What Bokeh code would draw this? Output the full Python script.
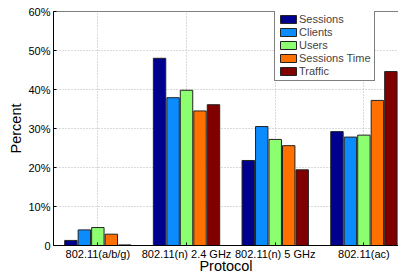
from bokeh.plotting import figure
from bokeh.models import (FixedTicker, LinearAxis, Range1d, Legend, LegendItem,
                          ColumnDataSource, Grid, Span)
from bokeh.embed import file_html
from bokeh.resources import INLINE

categories = ["802.11(a/b/g)", "802.11(n) 2.4 GHz", "802.11(n) 5 GHz", "802.11(ac)"]
series_names = ["Sessions", "Clients", "Users", "Sessions Time", "Traffic"]
sessions = [1.3, 48.0, 21.8, 29.2]
clients = [4.0, 37.9, 30.5, 27.8]
users = [4.6, 39.8, 27.2, 28.3]
sessions_time = [2.9, 34.5, 25.6, 37.2]
traffic = [0.15, 36.1, 19.4, 44.6]
series_values = [sessions, clients, users, sessions_time, traffic]
colors = ["#00008F", "#0A8CFF", "#8CFF70", "#FF7000", "#800000"]
y_ticks = [0, 10, 20, 30, 40, 50, 60]
y_tick_labels = ["0", "10%", "20%", "30%", "40%", "50%", "60%"]

FONT = "Liberation Sans"

p = figure(width=398, height=276, output_backend="svg", toolbar_location=None,
           x_range=Range1d(0.5, 4.39), y_range=Range1d(0, 60),
           min_border_left=53, min_border_right=0, min_border_top=11, min_border_bottom=31,
           x_axis_type=None, y_axis_type=None)
p.outline_line_color = None
p.background_fill_color = "white"
p.border_fill_color = "white"

xs = list(range(1, len(categories) + 1))

# grids (drawn beneath bars)
gx = Grid(dimension=0, ticker=FixedTicker(ticks=xs),
          grid_line_color="#b4b4b4", grid_line_dash="1 2", grid_line_width=1)
gy = Grid(dimension=1, ticker=FixedTicker(ticks=y_ticks), grid_line_color="#b4b4b4",
          grid_line_dash="1 2", grid_line_width=1)
p.add_layout(gx)
p.add_layout(gy)

pitch = 0.152
width = 0.14
renderers = []
for i, (name, vals, col) in enumerate(zip(series_names, series_values, colors)):
    off = (i - 2) * pitch
    src = ColumnDataSource(dict(x=[x + off for x in xs], top=vals))
    r = p.vbar(x="x", top="top", bottom=0, width=width, source=src,
               fill_color=col, line_color="#222222", line_width=1)
    renderers.append((name, r))

# axes
xax = LinearAxis(ticker=FixedTicker(ticks=xs),
                 major_label_overrides={x: c for x, c in zip(xs, categories)})
yax = LinearAxis(ticker=FixedTicker(ticks=y_ticks),
                 major_label_overrides={t: l for t, l in zip(y_ticks, y_tick_labels)})
for ax in (xax, yax):
    ax.axis_line_color = "black"
    ax.axis_line_width = 1
    ax.major_tick_in = 3
    ax.major_tick_out = 0
    ax.minor_tick_line_color = None
    ax.major_tick_line_color = "black"
    ax.major_label_text_font = FONT
    ax.major_label_text_color = "black"
    ax.major_label_text_font_size = "11px"
    ax.axis_label_text_font = FONT
    ax.axis_label_text_font_size = "14.5px"
    ax.axis_label_text_font_style = "normal"
    ax.axis_label_text_color = "black"
xax.major_label_standoff = 2
yax.major_label_standoff = 3
yax.axis_label = "Percent"
yax.axis_label_standoff = 1
xax.axis_label = "Protocol"
xax.axis_label_standoff = -5
p.add_layout(xax, "below")
p.add_layout(yax, "left")

# top border of the axes box
p.add_layout(Span(location=60, dimension="width", line_color="black", line_width=1))

legend = Legend(items=[LegendItem(label=n, renderers=[r]) for n, r in renderers],
                location=(221, 164), orientation="vertical",
                label_text_font=FONT, label_text_font_size="11px",
                label_height=13, label_standoff=1, glyph_width=20, glyph_height=10,
                spacing=0, padding=3, margin=0,
                border_line_color="black", border_line_width=1,
                background_fill_alpha=1.0)
p.add_layout(legend)

open("out.html", "w").write(file_html(p, INLINE))
